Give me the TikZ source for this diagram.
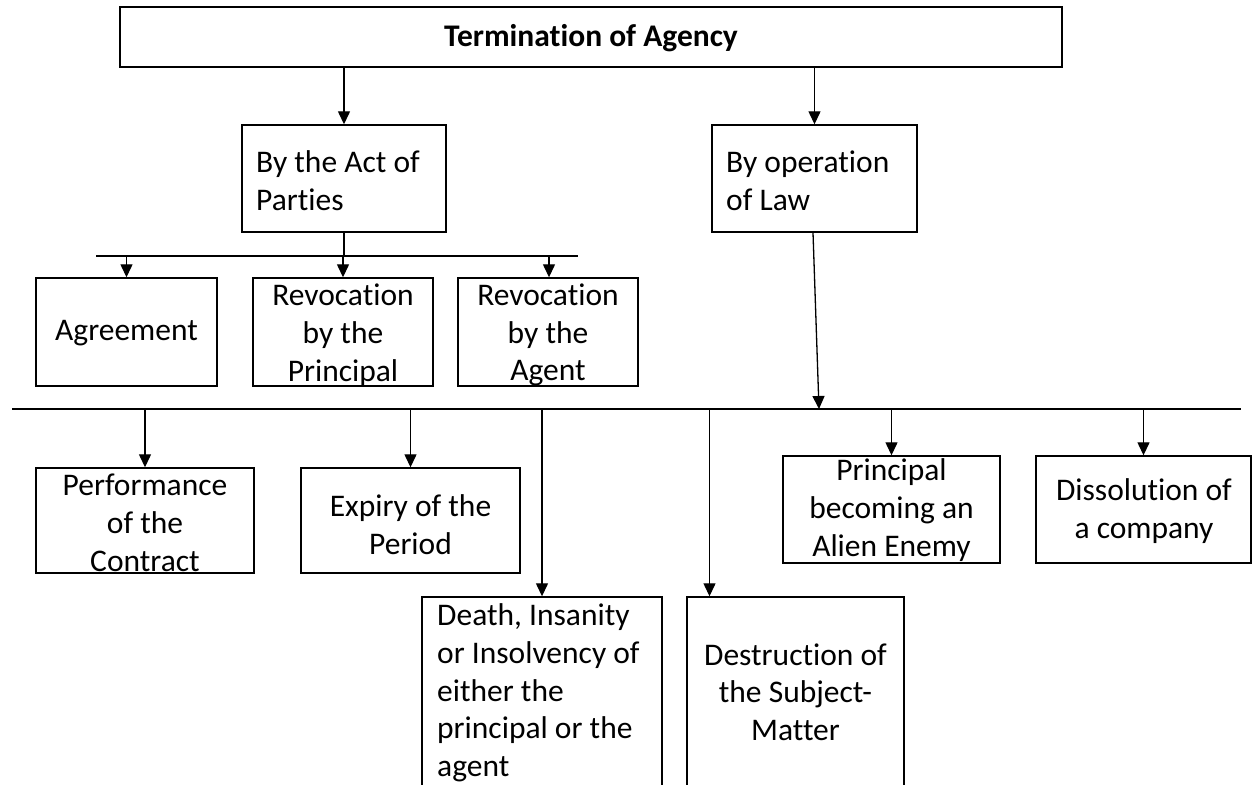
\documentclass[tikz,border=0pt]{standalone}
\usepackage{fontspec}
\setmainfont{Carlito}[Ligatures=NoCommon]
\usetikzlibrary{arrows.meta}
\begin{document}
\begin{tikzpicture}[x=1pt,y=-1pt,
  box/.style={draw=black, line width=1.4pt, inner sep=0pt, fill=white},
  txt/.style={inner sep=0pt, font=\fontsize{31.5}{37.7}\selectfont, align=center},
  ltxt/.style={txt, align=left, anchor=west},
  conn/.style={line width=1.3pt},
  arr/.style={conn, -{Triangle[length=13pt,width=12pt]}}]
\useasboundingbox (0,0) rectangle (1252,784);
\clip (0,0) rectangle (1252,784);

% boxes
\node[box, line width=2pt, minimum width=942pt, minimum height=60pt] (top) at (591,37) {};
\node[box, minimum width=204pt, minimum height=107pt] (act) at (344,178.5) {};
\node[box, minimum width=205pt, minimum height=107pt] (law) at (814.5,178.5) {};
\node[box, minimum width=181pt, minimum height=108pt] (agr) at (126.5,332) {};
\node[box, minimum width=180pt, minimum height=108pt] (revp) at (343,332) {};
\node[box, minimum width=180pt, minimum height=108pt] (reva) at (548,332) {};
\node[box, minimum width=218pt, minimum height=105pt] (perf) at (145,520.5) {};
\node[box, minimum width=219pt, minimum height=105pt] (expi) at (410.5,520.5) {};
\node[box, minimum width=240pt, minimum height=203pt] (death) at (542,698.5) {};
\node[box, minimum width=217pt, minimum height=203pt] (dest) at (795.5,698.5) {};
\node[box, minimum width=217pt, minimum height=107pt] (alien) at (891.5,509.5) {};
\node[box, minimum width=215pt, minimum height=107pt] (diss) at (1143.5,509.5) {};

% labels
\node[txt, font=\fontsize{31.5}{37.7}\selectfont\bfseries] (top-t) at (591,38) {Termination of Agency};
\node[ltxt] (act-t) at (256,181) {By the Act of\\Parties};
\node[ltxt] (law-t) at (726,181) {By operation\\of Law};
\node[txt] (agr-t) at (126.5,333) {Agreement};
\node[txt] (revp-t) at (343,335) {Revocation\\by the\\Principal};
\node[txt] (reva-t) at (548,335) {Revocation\\by the\\Agent};
\node[txt] (perf-t) at (145,523) {Performance\\of the\\Contract};
\node[txt] (expi-t) at (410.5,525) {Expiry of the\\Period};
\node[ltxt] (death-t) at (437,693) {Death, Insanity\\or Insolvency of\\either the\\principal or the\\agent};
\node[txt] (dest-t) at (795.5,692) {Destruction of\\the Subject-\\Matter};
\node[txt] (alien-t) at (891.5,510) {Principal\\becoming an\\Alien Enemy};
\node[txt] (diss-t) at (1144,511) {Dissolution of\\a company};

% bus lines
\coordinate (b1L) at (96,256);
\coordinate (b1R) at (578,256);
\coordinate (b2L) at (12,409);
\coordinate (b2R) at (1241,409);
\coordinate (lawhit) at (819,409);
\draw[conn] (b1L) -- (b1R);
\draw[conn] (b2L) -- (b2R);

% connectors
\draw[arr] (act.north |- top.south) -- (act.north);
\draw[arr] (law.north |- top.south) -- (law.north);
\draw[conn] (act.south) -- (act.south |- b1L);
\draw[arr] (agr.north |- b1L) -- (agr.north);
\draw[arr] (revp.north |- b1L) -- (revp.north);
\draw[arr] ([xshift=1pt]reva.north |- b1L) -- ([xshift=1pt]reva.north);
\draw[arr] ([xshift=-1.5pt]law.south) -- (lawhit);
\draw[arr] (perf.north |- b2L) -- (perf.north);
\draw[arr] (expi.north |- b2L) -- (expi.north);
\draw[arr] (death.north |- b2L) -- (death.north);
\draw[arr] ([xshift=-86pt]dest.north |- b2L) -- ([xshift=-86pt]dest.north);
\draw[arr] (alien.north |- b2L) -- (alien.north);
\draw[arr] (diss.north |- b2L) -- (diss.north);
\end{tikzpicture}
\end{document}
